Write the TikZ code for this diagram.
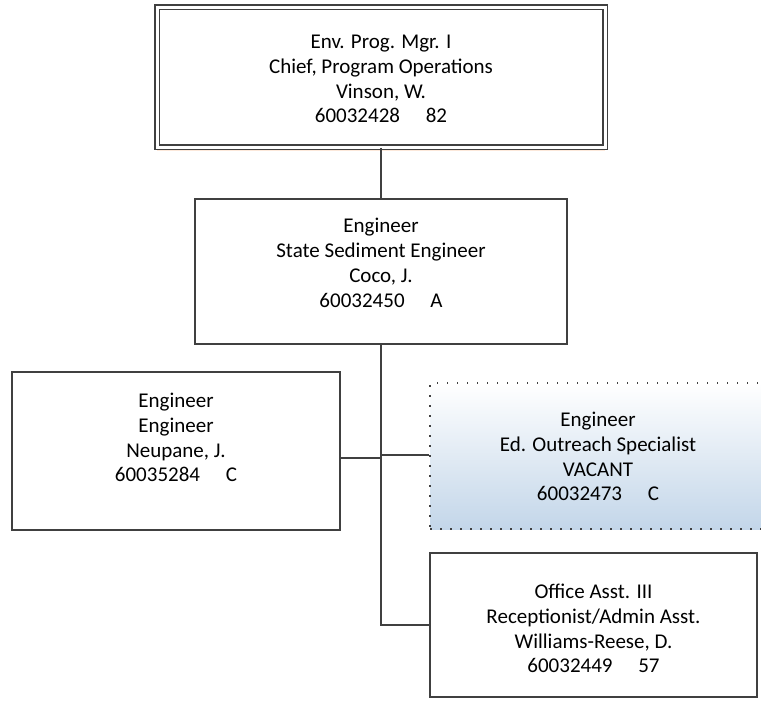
\documentclass[tikz,border=0pt]{standalone}
\usepackage{fontspec}
\setmainfont{Carlito}
\usetikzlibrary{shadows}
\definecolor{boxgray}{RGB}{64,64,64}
\definecolor{vacblue}{RGB}{195,214,233}
\definecolor{glow}{RGB}{252,232,218}
\begin{document}
\begin{tikzpicture}[x=1pt,y=-1pt,
	post/.style={draw=boxgray, line width=1.8pt, fill=white, inner sep=0pt},
	chief/.style={post, double=white, double distance=3pt, line width=1.6pt,
		drop shadow={shadow xshift=0pt, shadow yshift=-4pt, fill=glow, opacity=1}},
	vacant/.style={post, dash pattern=on 1.5pt off 8.5pt, top color=white, bottom color=vacblue},
	txt/.style={align=center, inner sep=0pt, font=\fontsize{21}{24.8}\selectfont},
	link/.style={draw=boxgray, line width=2.4pt}]
	\useasboundingbox (0,0) rectangle (761,702);
	% boxes
	\node [chief, minimum width=448pt, minimum height=140pt] (top) at (381,77) {};
	\node [post, minimum width=372pt, minimum height=145pt] (sed) at (381,271.5) {};
	\node [post, minimum width=328pt, minimum height=158pt] (neu) at (176,451) {};
	\node [vacant, minimum width=336pt, minimum height=146pt] (vac) at (598,456) {};
	\node [post, minimum width=327pt, minimum height=144pt] (off) at (593.5,625) {};
	% texts
	\node [txt] (top-t) at (381,79) {Env. Prog. Mgr. I\\Chief, Program Operations\\Vinson, W.\\60032428\quad\ 82};
	\node [txt] (sed-t) at (381,263) {Engineer\\State Sediment Engineer\\Coco, J.\\60032450\quad\ A};
	\node [txt] (neu-t) at (176,437.5) {Engineer\\Engineer\\Neupane, J.\\60035284\quad\ C};
	\node [txt] (vac-t) at (598,456.5) {Engineer\\Ed. Outreach Specialist\\VACANT\\60032473\quad\ C};
	\node [txt] (off-t) at (593.5,628.5) {Office Asst. III\\Receptionist/Admin Asst.\\Williams-Reese, D.\\60032449\quad\ 57};
	% connectors
	\coordinate (jl) at (381,458);
	\coordinate (jr) at (381,455);
	\draw [link] (top.south) -- (sed.north);
	\draw [link] (sed.south) -- (sed.south |- off.west) -- (off.west);
	\draw [link] (jl) -- (jl -| neu.east);
	\draw [link] (jr) -- (jr -| vac.west);
\end{tikzpicture}
\end{document}
